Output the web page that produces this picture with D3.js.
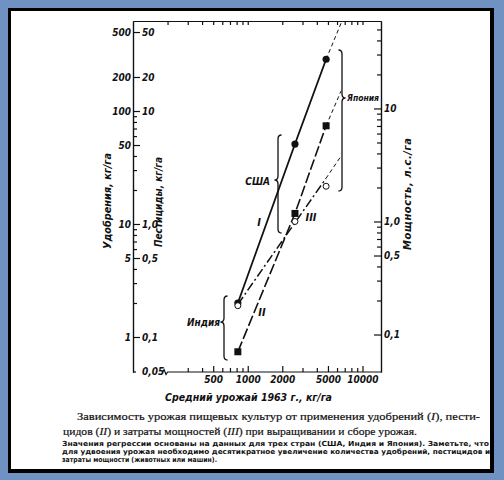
<!DOCTYPE html>
<html>
<head>
<meta charset="utf-8">
<script src="https://cdn.jsdelivr.net/npm/d3@7"></script>
<style>
    body { margin: 0; background: #7092c2; }
    svg { display: block; }
    .axis text {
        font-family: "DejaVu Sans Condensed", "Liberation Sans Narrow", "DejaVu Sans", sans-serif;
        font-stretch: condensed;
        font-style: italic;
        font-weight: bold;
        font-size: 10px;
        fill: #111;
    }
    .axis line, .axis path { stroke: #111; stroke-width: 1.2; }
    .axisTitle, .note {
        font-family: "DejaVu Sans Condensed", "Liberation Sans Narrow", "DejaVu Sans", sans-serif;
        font-stretch: condensed;
        font-style: italic;
        font-weight: bold;
        fill: #111;
    }
    .caption { font-family: "Liberation Serif", "DejaVu Serif", serif; font-size: 11px; fill: #111; stroke: #111; stroke-width: 0.2; }
    .smallCaption { font-family: "DejaVu Sans", sans-serif; font-weight: bold; font-size: 7px; fill: #111; }
</style>
</head>
<body>
<script>
(function() {

    //values: India, USA, Japan
    var countries = ["Индия", "США", "Япония"];
    var yieldKg = [820, 2580, 4820];          //average yield 1963, kg/ha
    var fertilizer = [2.0, 51, 287];          //I, kg/ha
    var pesticides = [0.074, 1.24, 7.4];      //II, kg/ha
    var power = [0.18, 1.0, 2.05];            //III, hp/ha

    //regression line III and dashed extensions (yield, value)
    var powerTrendYield = [820, 4800, 6400];
    var powerTrendValue = [0.185, 2.4, 3.7];
    var fertExtension = [6600, 620];
    var pestExtension = [6500, 15];

    //tick values and labels
    var xMajorTicks = [500, 1000, 2000, 5000, 10000];
    var xMinorTicks = [300, 400, 600, 700, 800, 900, 3000, 4000, 6000, 7000, 8000, 9000];
    var xTopTicks = [200, 300, 400, 500, 600, 700, 800, 900, 1000, 2000, 3000, 4000, 5000, 6000, 7000, 8000, 9000, 10000];
    var fertMajorTicks = [1, 5, 10, 50, 100, 200, 500];
    var fertMinorTicks = [2, 3, 4, 6, 7, 8, 9, 20, 30, 40, 60, 70, 80, 90];
    var pestTickValues = [0.05, 0.1, 0.5, 1, 10, 20, 50];
    var pestTickLabels = ["0,05", "0,1", "0,5", "1,0", "10", "20", "50"];
    var powerMajorTicks = [0.1, 0.5, 1, 10];
    var powerTickLabels = ["0,1", "0,5", "1,0", "10"];
    var powerMinorTicks = [0.2, 0.3, 0.4, 0.6, 0.7, 0.8, 0.9, 2, 3, 4, 5, 6, 7, 8, 9, 20, 30, 40, 50];

    //frame dimensions
    var width = 504,
        height = 480,
        left = 133,
        right = 381,
        top = 21,
        bottom = 372;

    var svg = d3.select("body")
        .append("svg")
        .attr("width", width)
        .attr("height", height);

    //blue page with a black edged white sheet
    svg.append("rect").attr("width", width).attr("height", height).attr("fill", "#7092c2");
    svg.append("rect").attr("x", 8).attr("y", 8).attr("width", 486).attr("height", 465).attr("fill", "#000");
    svg.append("rect").attr("x", 11).attr("y", 11).attr("width", 479).attr("height", 458).attr("fill", "#fff");

    //log scales
    var x = d3.scaleLog().domain([100, 14500]).range([left, right]);
    var yFert = d3.scaleLog().domain([0.49, 626]).range([bottom, top]);
    var yPest = d3.scaleLog().domain([0.049, 62.6]).range([bottom, top]);
    var yPower = d3.scaleLog().domain([0.0466, 59.4]).range([bottom, top]);

    //left axis: fertilizer labels outside, ticks inside
    svg.append("g")
        .attr("class", "axis")
        .attr("transform", "translate(" + left + ",0)")
        .call(d3.axisLeft(yFert).tickValues(fertMajorTicks).tickSizeInner(-7).tickSizeOuter(0).tickPadding(2).tickFormat(d => d));
    svg.append("g")
        .attr("class", "axis")
        .attr("transform", "translate(" + left + ",0)")
        .call(d3.axisLeft(yFert).tickValues(fertMinorTicks).tickSizeInner(-4).tickSizeOuter(0).tickFormat(""));
    //pesticide labels inside the left axis
    var pestAxis = svg.append("g")
        .attr("class", "axis")
        .attr("transform", "translate(" + left + ",0)")
        .call(d3.axisRight(yPest).tickValues(pestTickValues).tickSize(0).tickPadding(9)
            .tickFormat((d, i) => pestTickLabels[i]));
    pestAxis.select(".domain").remove();
    //small foot at the end of the left axis
    svg.append("line").attr("x1", left).attr("x2", left + 3).attr("y1", bottom).attr("y2", bottom)
        .attr("stroke", "#111").attr("stroke-width", 1.2);

    //right axis: power
    svg.append("g")
        .attr("class", "axis")
        .attr("transform", "translate(" + right + ",0)")
        .call(d3.axisRight(yPower).tickValues(powerMajorTicks).tickSizeInner(-7).tickSizeOuter(0).tickPadding(3)
            .tickFormat((d, i) => powerTickLabels[i]));
    svg.append("g")
        .attr("class", "axis")
        .attr("transform", "translate(" + right + ",0)")
        .call(d3.axisRight(yPower).tickValues(powerMinorTicks).tickSizeInner(-4).tickSizeOuter(0).tickFormat(""));

    //bottom axis, starting after a break
    var xAxis = svg.append("g")
        .attr("class", "axis")
        .attr("transform", "translate(0," + bottom + ")")
        .call(d3.axisBottom(x).tickValues(xMajorTicks).tickSizeInner(-6).tickSizeOuter(0).tickPadding(4).tickFormat(d => d));
    xAxis.select(".domain").remove();
    var xMinor = svg.append("g")
        .attr("class", "axis")
        .attr("transform", "translate(0," + bottom + ")")
        .call(d3.axisBottom(x).tickValues(xMinorTicks).tickSizeInner(-4).tickSizeOuter(0).tickFormat(""));
    xMinor.select(".domain").remove();
    var bx = x(200);
    svg.append("path")
        .attr("d", "M" + (bx - 5) + "," + bottom + " l1.5,-2.5 l2,5 l1.5,-2.5 L" + right + "," + bottom)
        .attr("fill", "none")
        .attr("stroke", "#111")
        .attr("stroke-width", 1.2);

    //top frame with ticks
    svg.append("g")
        .attr("class", "axis")
        .attr("transform", "translate(0," + top + ")")
        .call(d3.axisTop(x).tickValues(xTopTicks).tickSizeInner(-4).tickSizeOuter(0).tickFormat(""));

    //lines
    var fertLine = d3.line().x((d, i) => x(yieldKg[i])).y(d => yFert(d));
    var pestLine = d3.line().x((d, i) => x(yieldKg[i])).y(d => yPest(d));
    var powerLine = d3.line().x((d, i) => x(powerTrendYield[i])).y(d => yPower(d));

    svg.append("path")
        .attr("d", fertLine(fertilizer))
        .attr("fill", "none").attr("stroke", "#111").attr("stroke-width", 1.8);
    svg.append("line")
        .attr("x1", x(yieldKg[2])).attr("y1", yFert(fertilizer[2]))
        .attr("x2", x(fertExtension[0])).attr("y2", yFert(fertExtension[1]))
        .attr("stroke", "#111").attr("stroke-width", 1).attr("stroke-dasharray", "4,3");

    svg.append("path")
        .attr("d", pestLine(pesticides))
        .attr("fill", "none").attr("stroke", "#111").attr("stroke-width", 1.6).attr("stroke-dasharray", "11,3");
    svg.append("line")
        .attr("x1", x(yieldKg[2])).attr("y1", yPest(pesticides[2]))
        .attr("x2", x(pestExtension[0])).attr("y2", yPest(pestExtension[1]))
        .attr("stroke", "#111").attr("stroke-width", 1).attr("stroke-dasharray", "4,3");

    svg.append("path")
        .attr("d", powerLine(powerTrendValue.slice(0, 2)))
        .attr("fill", "none").attr("stroke", "#111").attr("stroke-width", 1.5).attr("stroke-dasharray", "9,3,2,3");
    svg.append("line")
        .attr("x1", x(powerTrendYield[1])).attr("y1", yPower(powerTrendValue[1]))
        .attr("x2", x(powerTrendYield[2])).attr("y2", yPower(powerTrendValue[2]))
        .attr("stroke", "#111").attr("stroke-width", 1).attr("stroke-dasharray", "4,3");

    //markers
    svg.selectAll(".fertDot")
        .data(fertilizer)
        .enter()
        .append("circle")
        .attr("class", "fertDot")
        .attr("cx", (d, i) => x(yieldKg[i]))
        .attr("cy", d => yFert(d))
        .attr("r", 3.6)
        .attr("fill", "#111");

    svg.selectAll(".pestDot")
        .data(pesticides)
        .enter()
        .append("rect")
        .attr("class", "pestDot")
        .attr("x", (d, i) => x(yieldKg[i]) - 3.5)
        .attr("y", d => yPest(d) - 3.5)
        .attr("width", 7)
        .attr("height", 7)
        .attr("fill", "#111");

    svg.selectAll(".powerDot")
        .data(power)
        .enter()
        .append("circle")
        .attr("class", "powerDot")
        .attr("cx", (d, i) => x(yieldKg[i]))
        .attr("cy", d => yPower(d))
        .attr("r", 3)
        .attr("fill", "#fff")
        .attr("stroke", "#111")
        .attr("stroke-width", 1);

    //curly braces for the countries
    function brace(xp, y1, y2, ym, dir, w) {
        var q = dir * w, r = 4;
        return "M" + (xp - q) + "," + y1 +
            " Q" + xp + "," + y1 + " " + xp + "," + (y1 + r) +
            " L" + xp + "," + (ym - r) +
            " Q" + xp + "," + ym + " " + (xp + q) + "," + ym +
            " Q" + xp + "," + ym + " " + xp + "," + (ym + r) +
            " L" + xp + "," + (y2 - r) +
            " Q" + xp + "," + y2 + " " + (xp - q) + "," + y2;
    }
    var braces = [
        {x: 224, y1: 296, y2: 360, ym: 322, dir: -1},
        {x: 278, y1: 135, y2: 233, ym: 180, dir: -1},
        {x: 342, y1: 50, y2: 191, ym: 98, dir: 1}
    ];
    svg.selectAll(".brace")
        .data(braces)
        .enter()
        .append("path")
        .attr("class", "brace")
        .attr("d", d => brace(d.x, d.y1, d.y2, d.ym, d.dir, 3.5))
        .attr("fill", "none")
        .attr("stroke", "#111")
        .attr("stroke-width", 1.3);

    svg.append("text").attr("class", "note").attr("x", 220).attr("y", 326)
        .attr("text-anchor", "end").style("font-size", "10px").text(countries[0]);
    svg.append("text").attr("class", "note").attr("x", 270).attr("y", 185)
        .attr("text-anchor", "end").style("font-size", "10px").text(countries[1]);
    svg.append("text").attr("class", "note").attr("x", 347).attr("y", 101)
        .style("font-size", "9px").attr("textLength", 32).attr("lengthAdjust", "spacingAndGlyphs")
        .text(countries[2]);

    //series labels
    svg.append("text").attr("class", "note").attr("x", 259).attr("y", 226)
        .attr("text-anchor", "middle").style("font-size", "11px").text("I");
    svg.append("text").attr("class", "note").attr("x", 262).attr("y", 316)
        .attr("text-anchor", "middle").style("font-size", "11px").text("II");
    svg.append("text").attr("class", "note").attr("x", 311).attr("y", 221)
        .attr("text-anchor", "middle").style("font-size", "11px").text("III");

    //axis titles
    svg.append("text").attr("class", "axisTitle")
        .attr("transform", "translate(111,201) rotate(-90)")
        .attr("text-anchor", "middle").style("font-size", "11px")
        .attr("textLength", 96).attr("lengthAdjust", "spacingAndGlyphs")
        .text("Удобрения, кг/га");
    svg.append("text").attr("class", "axisTitle")
        .attr("transform", "translate(162,202) rotate(-90)")
        .attr("text-anchor", "middle").style("font-size", "11px")
        .attr("textLength", 90).attr("lengthAdjust", "spacingAndGlyphs")
        .text("Пестициды, кг/га");
    svg.append("text").attr("class", "axisTitle")
        .attr("transform", "translate(411,194) rotate(-90)")
        .attr("text-anchor", "middle").style("font-size", "11px")
        .attr("textLength", 112).attr("lengthAdjust", "spacing")
        .text("Мощность, л.с./га");
    svg.append("text").attr("class", "axisTitle")
        .attr("x", 165).attr("y", 401).style("font-size", "11px")
        .attr("textLength", 167).attr("lengthAdjust", "spacingAndGlyphs")
        .text("Средний урожай 1963 г., кг/га");

    //caption
    var cap1 = svg.append("text").attr("class", "caption").attr("x", 77).attr("y", 420)
        .attr("textLength", 403).attr("lengthAdjust", "spacingAndGlyphs");
    cap1.append("tspan").text("Зависимость урожая пищевых культур от применения удобрений (");
    cap1.append("tspan").style("font-style", "italic").text("I");
    cap1.append("tspan").text("), пести-");
    var cap2 = svg.append("text").attr("class", "caption").attr("x", 63).attr("y", 435)
        .attr("textLength", 354).attr("lengthAdjust", "spacingAndGlyphs");
    cap2.append("tspan").text("цидов (");
    cap2.append("tspan").style("font-style", "italic").text("II");
    cap2.append("tspan").text(") и затраты мощностей (");
    cap2.append("tspan").style("font-style", "italic").text("III");
    cap2.append("tspan").text(") при выращивании и сборе урожая.");

    var smallLines = [
        {text: "Значения регрессии основаны на данных для трех стран (США, Индия и Япония). Заметьте, что", y: 446, len: 427},
        {text: "для удвоения урожая необходимо десятикратное увеличение количества удобрений, пестицидов и", y: 454, len: 428},
        {text: "затраты мощности (животных или машин).", y: 462, len: 155}
    ];
    svg.selectAll(".smallCaption")
        .data(smallLines)
        .enter()
        .append("text")
        .attr("class", "smallCaption")
        .attr("x", 62)
        .attr("y", d => d.y)
        .attr("textLength", d => d.len)
        .attr("lengthAdjust", "spacingAndGlyphs")
        .text(d => d.text);

})();
</script>
</body>
</html>
